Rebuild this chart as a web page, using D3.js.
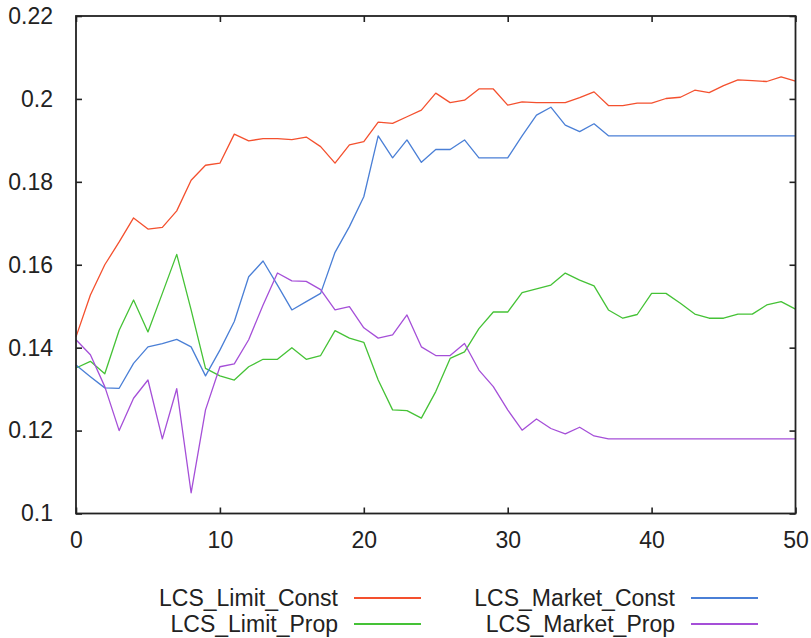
<!DOCTYPE html>
<html>
<head>
<meta charset="utf-8">
<script src="https://cdn.jsdelivr.net/npm/d3@7"></script>
<style>
  html, body { margin: 0; padding: 0; background: #fff; }
  svg { display: block; }
  text { font-family: "Liberation Sans", Arial, sans-serif; fill: #222; }
</style>
</head>
<body>
<svg id="chart" width="811" height="638"></svg>
<script>
// ---- data ----
const xs = d3.range(0, 51);
const limitConst = [0.1426,0.1527,0.1600,0.1655,0.1713,0.1686,0.1690,0.1730,0.1804,0.1840,0.1845,0.1915,0.1899,0.1904,0.1904,0.1902,0.1908,0.1885,0.1845,0.1889,0.1897,0.1944,0.1941,0.1957,0.1973,0.2014,0.1991,0.1997,0.2024,0.2024,0.1985,0.1993,0.1991,0.1991,0.1991,0.2003,0.2017,0.1984,0.1984,0.1990,0.1990,0.2001,0.2004,0.2021,0.2015,0.2032,0.2046,0.2044,0.2042,0.2053,0.2043];
const limitProp = [0.1351,0.1367,0.1337,0.1442,0.1515,0.1438,0.1531,0.1625,0.1491,0.1350,0.1332,0.1322,0.1354,0.1372,0.1372,0.1400,0.1372,0.1381,0.1441,0.1423,0.1413,0.1322,0.1250,0.1248,0.1230,0.1294,0.1374,0.1390,0.1446,0.1486,0.1486,0.1533,0.1542,0.1551,0.1580,0.1563,0.1549,0.1491,0.1471,0.1480,0.1531,0.1531,0.1507,0.1481,0.1471,0.1471,0.1481,0.1481,0.1503,0.1511,0.1493];
const marketConst = [0.1358,0.1330,0.1303,0.1302,0.1362,0.1402,0.1410,0.1420,0.1402,0.1332,0.1394,0.1463,0.1571,0.1609,0.1551,0.1491,0.1511,0.1531,0.1630,0.1692,0.1764,0.1911,0.1858,0.1901,0.1847,0.1878,0.1878,0.1901,0.1858,0.1858,0.1858,0.1911,0.1961,0.1980,0.1937,0.1921,0.1940,0.1911,0.1911,0.1911,0.1911,0.1911,0.1911,0.1911,0.1911,0.1911,0.1911,0.1911,0.1911,0.1911,0.1911];
const marketProp = [0.1419,0.1383,0.1306,0.1200,0.1278,0.1322,0.1180,0.1301,0.1050,0.1250,0.1354,0.1361,0.1419,0.1503,0.1580,0.1561,0.1560,0.1540,0.1491,0.1499,0.1448,0.1423,0.1431,0.1479,0.1402,0.1381,0.1381,0.1410,0.1346,0.1306,0.1250,0.1201,0.1228,0.1205,0.1192,0.1208,0.1187,0.1180,0.1180,0.1180,0.1180,0.1180,0.1180,0.1180,0.1180,0.1180,0.1180,0.1180,0.1180,0.1180,0.1180];
const seriesNames = ["LCS_Limit_Const", "LCS_Limit_Prop", "LCS_Market_Const", "LCS_Market_Prop"];
const xTicks = [0, 10, 20, 30, 40, 50];
const yTicks = [0.1, 0.12, 0.14, 0.16, 0.18, 0.2, 0.22];
const yTickLabels = ["0.1", "0.12", "0.14", "0.16", "0.18", "0.2", "0.22"];

// ---- layout ----
const colors = ["#f4502e", "#45c236", "#4a7fd6", "#a54fd8"];
const values = [limitConst, limitProp, marketConst, marketProp];
const L = 76, R = 795.5, T = 16, B = 513.5;

const svg = d3.select("#chart");
const x = d3.scaleLinear().domain([0, 50]).range([L, R]);
const y = d3.scaleLinear().domain([0.1, 0.22]).range([B, T]);

// series lines
const line = d3.line().x((d, i) => x(xs[i])).y(d => y(d));
values.forEach((vals, k) => {
  svg.append("path")
    .datum(vals)
    .attr("fill", "none")
    .attr("stroke", colors[k])
    .attr("stroke-width", 1.3)
    .attr("stroke-linejoin", "round")
    .attr("d", line);
});

// axes (ticks inward, mirrored)
function styleAxis(g) {
  g.select(".domain").remove();
  g.selectAll(".tick line").attr("stroke", "#222").attr("stroke-width", 1.6);
  g.selectAll(".tick text").attr("fill", "#222").style("font-size", "23px")
    .style("font-family", '"Liberation Sans", Arial, sans-serif');
}
svg.append("g").attr("transform", `translate(0,${B})`)
  .call(d3.axisBottom(x).tickValues(xTicks).tickSize(-6).tickPadding(18).tickFormat(d3.format("d")))
  .call(styleAxis);
svg.append("g").attr("transform", `translate(0,${T})`)
  .call(d3.axisTop(x).tickValues(xTicks).tickSize(-6).tickFormat(""))
  .call(styleAxis);
svg.append("g").attr("transform", `translate(${L},0)`)
  .call(d3.axisLeft(y).tickValues(yTicks).tickSize(-6).tickPadding(23).tickFormat((d, i) => yTickLabels[i]))
  .call(styleAxis);
svg.append("g").attr("transform", `translate(${R},0)`)
  .call(d3.axisRight(y).tickValues(yTicks).tickSize(-6).tickFormat(""))
  .call(styleAxis);

// frame
svg.append("rect")
  .attr("x", L).attr("y", T).attr("width", R - L).attr("height", B - T)
  .attr("fill", "none").attr("stroke", "#222").attr("stroke-width", 1.8);

// legend
const legendItems = [
  { name: seriesNames[0], color: colors[0], tx: 338, lx1: 354, lx2: 421, ly: 598 },
  { name: seriesNames[1], color: colors[1], tx: 338, lx1: 354, lx2: 421, ly: 624 },
  { name: seriesNames[2], color: colors[2], tx: 675, lx1: 691, lx2: 758, ly: 598 },
  { name: seriesNames[3], color: colors[3], tx: 675, lx1: 691, lx2: 758, ly: 624 }
];
const lg = svg.append("g");
legendItems.forEach(it => {
  lg.append("text")
    .attr("x", it.tx).attr("y", it.ly).attr("dy", "0.34em")
    .attr("text-anchor", "end")
    .style("font-size", "23px")
    .text(it.name);
  lg.append("line")
    .attr("x1", it.lx1).attr("x2", it.lx2)
    .attr("y1", it.ly).attr("y2", it.ly)
    .attr("stroke", it.color).attr("stroke-width", 2);
});
</script>
</body>
</html>
